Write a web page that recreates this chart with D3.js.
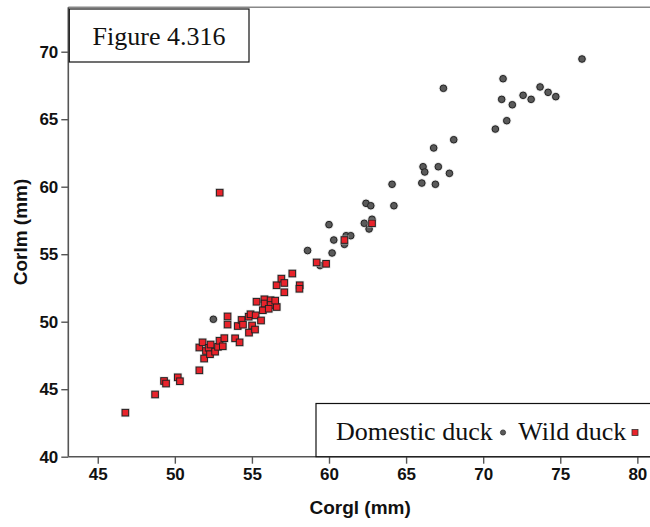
<!DOCTYPE html>
<html>
<head>
<meta charset="utf-8">
<script src="https://cdn.jsdelivr.net/npm/d3@7"></script>
<style>
  html, body { margin: 0; padding: 0; background: #fff; }
  svg { display: block; }
</style>
</head>
<body>
<svg id="chart" width="650" height="527"></svg>
<script>
// ---- data (Corgl mm, Corlm mm) ----
const domesticX = [52.50, 58.61, 59.42, 60.20, 60.00, 60.31, 61.00, 61.11, 61.41, 62.29, 62.60, 62.79,
  62.40, 62.71, 64.09, 64.21, 66.02, 66.90, 66.10, 66.21, 67.09, 67.81, 66.79, 68.09, 67.42, 70.79,
  71.53, 71.20, 71.29, 71.89, 72.59, 73.11, 73.69, 74.21, 74.71, 76.41];
const domesticY = [50.18, 55.27, 54.16, 55.09, 57.19, 56.05, 55.73, 56.37, 56.37, 57.29, 56.87, 57.59,
  58.77, 58.59, 60.18, 58.59, 60.27, 60.18, 61.48, 61.09, 61.48, 60.99, 62.87, 63.48, 67.29, 64.27,
  64.89, 66.47, 68.00, 66.07, 66.77, 66.47, 67.39, 66.99, 66.67, 69.46];

const wildX = [46.79, 48.72, 49.30, 49.43, 50.19, 50.33, 51.59, 51.59, 51.80, 51.90, 52.02, 52.19,
  52.32, 52.28, 52.61, 52.80, 52.90, 53.11, 53.21, 53.42, 53.42, 53.91, 54.08, 54.20, 54.33, 54.42,
  54.79, 54.91, 54.81, 55.01, 55.20, 55.24, 55.30, 55.59, 55.71, 55.81, 55.82, 56.21, 56.21, 56.09,
  56.61, 56.51, 56.60, 56.91, 57.10, 57.10, 57.62, 58.10, 58.08, 59.20, 59.81, 61.00, 62.79, 52.91];
const wildY = [43.26, 44.61, 45.61, 45.42, 45.88, 45.59, 46.40, 48.09, 48.47, 47.27, 47.83, 48.07,
  48.31, 47.59, 47.78, 48.14, 48.59, 48.18, 48.78, 50.39, 49.79, 48.77, 49.68, 48.47, 50.13, 49.78,
  50.37, 50.55, 49.19, 49.72, 49.42, 50.47, 51.48, 50.09, 50.85, 51.66, 51.35, 51.59, 51.24, 50.96,
  51.09, 51.56, 52.70, 53.19, 52.87, 52.18, 53.57, 52.70, 52.44, 54.39, 54.29, 56.05, 57.29, 59.56];

const xTicks = [45, 50, 55, 60, 65, 70, 75, 80];
const yTicks = [40, 45, 50, 55, 60, 65, 70];
const seriesNames = ["Domestic duck", "Wild duck"];
const xTitle = "Corgl (mm)";
const yTitle = "Corlm (mm)";
const figureLabel = "Figure 4.316";

// ---- layout ----
const svg = d3.select("#chart");
const pLeft = 68.3, pRight = 652, pTop = 7.3, pBottom = 456.7;

const x = d3.scaleLinear().domain([43.09, 80.95]).range([pLeft, pRight]);
const y = d3.scaleLinear().domain([40, 73.29]).range([pBottom, pTop]);

const axisColor = "#555";

// top frame line
svg.append("line")
  .attr("x1", pLeft).attr("x2", 650).attr("y1", pTop).attr("y2", pTop)
  .attr("stroke", "#888").attr("stroke-width", 1.5);

// axes
const xAxis = svg.append("g").attr("transform", `translate(0,${pBottom})`)
  .call(d3.axisBottom(x).tickValues(xTicks).tickSize(7).tickPadding(4).tickSizeOuter(0));
const yAxis = svg.append("g").attr("transform", `translate(${pLeft},0)`)
  .call(d3.axisLeft(y).tickValues(yTicks).tickSize(7).tickPadding(3).tickSizeOuter(0));

[xAxis, yAxis].forEach(g => {
  g.select(".domain").attr("stroke", axisColor).attr("stroke-width", 1.6);
  g.selectAll(".tick line").attr("stroke", axisColor).attr("stroke-width", 1.4);
  g.selectAll(".tick text")
    .attr("fill", "#111")
    .style("font-family", "'Liberation Sans', Arial, sans-serif")
    .style("font-size", "17px")
    .style("font-weight", "bold");
});
xAxis.select(".domain").attr("d", `M${pLeft},0H${650}`);
yAxis.select(".domain").attr("d", `M0,${pTop}V${pBottom}`);

// axis titles
svg.append("text")
  .attr("x", (pLeft + pRight) / 2).attr("y", 514)
  .attr("text-anchor", "middle")
  .style("font-family", "'Liberation Sans', Arial, sans-serif")
  .style("font-size", "19px").style("font-weight", "bold")
  .attr("fill", "#111")
  .text(xTitle);
svg.append("text")
  .attr("transform", `translate(27,${(pTop + pBottom) / 2}) rotate(-90)`)
  .attr("text-anchor", "middle")
  .style("font-family", "'Liberation Sans', Arial, sans-serif")
  .style("font-size", "19px").style("font-weight", "bold")
  .attr("fill", "#111")
  .text(yTitle);

// points
const domestic = domesticX.map((v, i) => ({ x: v, y: domesticY[i] }));
const wild = wildX.map((v, i) => ({ x: v, y: wildY[i] }));

const gDom = svg.append("g");
gDom.selectAll("circle.halo").data(domestic).join("circle")
  .attr("class", "halo")
  .attr("cx", d => x(d.x)).attr("cy", d => y(d.y)).attr("r", 4.6)
  .attr("fill", "#ccc").attr("opacity", 0.6);
gDom.selectAll("circle.pt").data(domestic).join("circle")
  .attr("class", "pt")
  .attr("cx", d => x(d.x)).attr("cy", d => y(d.y)).attr("r", 3.3)
  .attr("fill", "#5a5a5a").attr("stroke", "#222").attr("stroke-width", 1);

const s = 6.6;
const gWild = svg.append("g");
gWild.selectAll("rect.halo").data(wild).join("rect")
  .attr("class", "halo")
  .attr("x", d => x(d.x) - s / 2 - 1.2).attr("y", d => y(d.y) - s / 2 - 1.2)
  .attr("width", s + 2.4).attr("height", s + 2.4)
  .attr("fill", "#ccc").attr("opacity", 0.6);
gWild.selectAll("rect.pt").data(wild).join("rect")
  .attr("class", "pt")
  .attr("x", d => x(d.x) - s / 2).attr("y", d => y(d.y) - s / 2)
  .attr("width", s).attr("height", s)
  .attr("fill", "#e8232b").attr("stroke", "#222").attr("stroke-width", 1);

// figure label box
svg.append("rect")
  .attr("x", 69.3).attr("y", 9).attr("width", 179.7).attr("height", 53)
  .attr("fill", "#fff").attr("stroke", "#111").attr("stroke-width", 1.2);
svg.append("text")
  .attr("x", 159).attr("y", 44.5).attr("text-anchor", "middle")
  .style("font-family", "'Liberation Serif', 'Times New Roman', serif")
  .style("font-size", "26px").attr("fill", "#111")
  .text(figureLabel);

// legend
svg.append("rect")
  .attr("x", 316).attr("y", 403.5).attr("width", 345).attr("height", 53.2)
  .attr("fill", "#fff").attr("stroke", "#111").attr("stroke-width", 1.2);
const legFamily = "'Liberation Serif', 'Times New Roman', serif";
svg.append("text")
  .attr("x", 336).attr("y", 440)
  .style("font-family", legFamily).style("font-size", "26px").attr("fill", "#111")
  .text(seriesNames[0]);
svg.append("circle")
  .attr("cx", 503).attr("cy", 432.5).attr("r", 2.6)
  .attr("fill", "#5a5a5a").attr("stroke", "#333").attr("stroke-width", 0.8);
svg.append("text")
  .attr("x", 518.3).attr("y", 440)
  .style("font-family", legFamily).style("font-size", "26px").attr("fill", "#111")
  .text(seriesNames[1]);
svg.append("rect")
  .attr("x", 635 - 3).attr("y", 432.5 - 3).attr("width", 6).attr("height", 6)
  .attr("fill", "#e8232b").attr("stroke", "#333").attr("stroke-width", 0.8);
</script>
</body>
</html>
